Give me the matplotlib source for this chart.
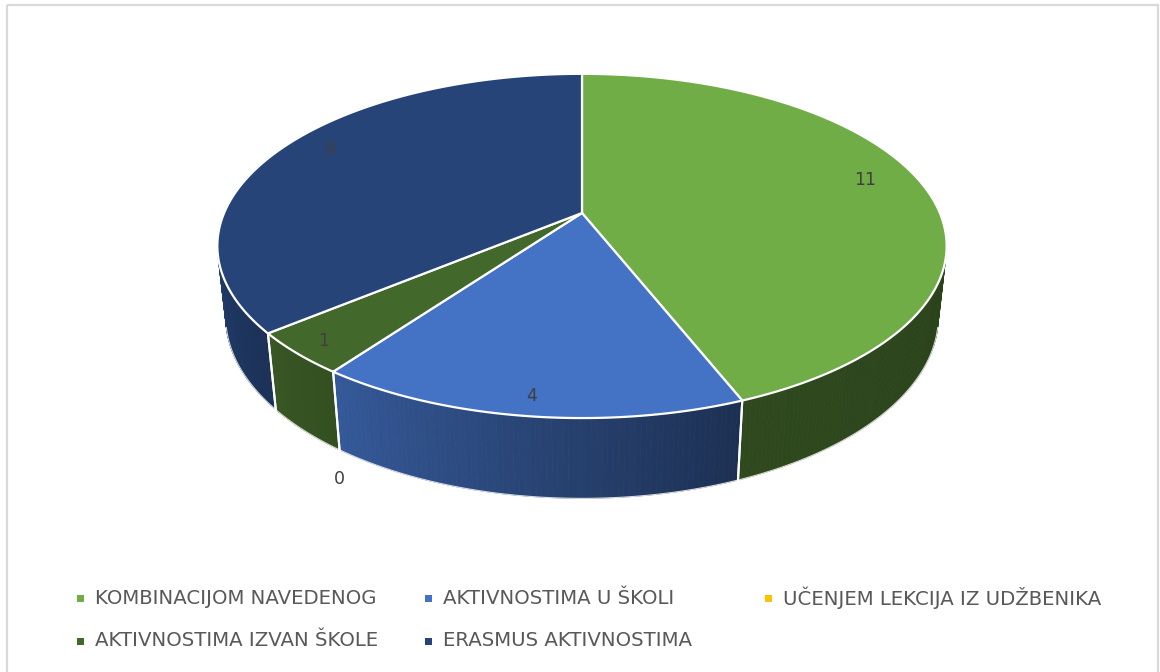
import numpy as np
import matplotlib
matplotlib.use("Agg")
import matplotlib.pyplot as plt
from matplotlib.patches import Polygon, Rectangle

# data
categories = ["KOMBINACIJOM NAVEDENOG", "AKTIVNOSTIMA U ŠKOLI", "UČENJEM LEKCIJA IZ UDŽBENIKA",
              "AKTIVNOSTIMA IZVAN ŠKOLE", "ERASMUS AKTIVNOSTIMA"]
values = [11, 4, 0, 1, 9]
colors = ["#70AD47", "#4472C4", "#FFC000", "#43682B", "#264478"]
# wall shading (left end, right end) as a fraction of the slice colour
wall_shade = [(0.42, 0.38), (0.78, 0.42), (0.8, 0.7), (0.84, 0.76), (0.86, 0.72)]

W, H = 1160, 672

# 3d pie view (pixel units)
CX, CY = 582, 213
FOCAL = 1657.0
DIST = 4.63
ELEV = np.radians(27.6)
THICK = 0.225
CE, SE = np.cos(ELEV), np.sin(ELEV)


def project(theta, r, z):
    th = np.radians(theta)
    x = r * np.sin(th)
    y = r * np.cos(th)
    d = DIST + y * CE - z * SE
    return CX + FOCAL * x / d, CY - FOCAL * (z * CE + y * SE) / d


# visible part of the outer wall
vis_lim = np.degrees(np.arccos(-1.0 / (DIST * CE)))
vis_lo, vis_hi = vis_lim, 360 - vis_lim

fig = plt.figure(figsize=(W / 100, H / 100), dpi=100)
ax = fig.add_axes([0, 0, 1, 1])
ax.set_xlim(0, W)
ax.set_ylim(H, 0)
ax.axis("off")

ax.add_patch(Rectangle((7, 5), W - 9, H + 20, fill=False, edgecolor="#D9D9D9", lw=1.6))

total = sum(values)
bounds = np.concatenate([[0], np.cumsum(values)]) / total * 360

for i, v in enumerate(values):
    a0, a1 = bounds[i], bounds[i + 1]
    if v == 0:
        continue
    base = np.array(matplotlib.colors.to_rgb(colors[i]))
    # outer wall
    lo, hi = max(a0, vis_lo), min(a1, vis_hi)
    if hi > lo:
        ts = np.linspace(lo, hi, 80)
        for t0, t1 in zip(ts[:-1], ts[1:]):
            k = ((t0 + t1) / 2 - lo) / (hi - lo)
            fac = wall_shade[i][1] + (wall_shade[i][0] - wall_shade[i][1]) * k
            c = np.clip(base * fac, 0, 1)
            pts = [project(t0, 1, 0), project(t1, 1, 0), project(t1, 1, -THICK), project(t0, 1, -THICK)]
            ax.add_patch(Polygon(pts, closed=True, facecolor=c, edgecolor=c, lw=0.6, zorder=1))
        # bottom rim
        bx, by = project(np.linspace(lo, hi, 80), 1, -THICK)
        ax.plot(bx, by, color="white", lw=0.8, alpha=0.8, zorder=2)
    # wall seams
    for a in (a0, a1):
        if vis_lo <= a <= vis_hi:
            x0, y0 = project(a, 1, 0)
            x1, y1 = project(a, 1, -THICK)
            ax.plot([x0, x1], [y0, y1], color="white", lw=1.5, zorder=2)

for i, v in enumerate(values):
    if v == 0:
        continue
    a0, a1 = bounds[i], bounds[i + 1]
    ts = np.linspace(a0, a1, 200)
    ex, ey = project(ts, 1, 0)
    pts = [project(0, 0, 0)] + list(zip(ex, ey))
    ax.add_patch(Polygon(pts, closed=True, facecolor=colors[i], edgecolor="white",
                         lw=1.6, joinstyle="round", zorder=3))

# data labels
for i, v in enumerate(values):
    mid = (bounds[i] + bounds[i + 1]) / 2
    if v == 0:
        lx, ly = project(mid, 1, -THICK)
        ly += 29
    elif v / total > 0.3:
        lx, ly = project(mid, 0.83, 0)
        ly -= 8
    else:
        lx, ly = project(mid, 0.92, 0)
    ax.text(lx, ly, str(v), ha="center", va="center", fontsize=12.5, color="#404040", zorder=5)

# legend
col_x = [80, 428, 768]
row_y = [598, 641]
for i, name in enumerate(categories):
    x, y = col_x[i % 3], row_y[i // 3]
    ax.add_patch(Rectangle((x - 3.5, y - 3.5), 7, 7, facecolor=colors[i], edgecolor="none", zorder=5))
    ax.text(x + 15, y, name, ha="left", va="center", fontsize=14.2, color="#595959", zorder=5)

fig.savefig("out.png", dpi=100, facecolor="white")
